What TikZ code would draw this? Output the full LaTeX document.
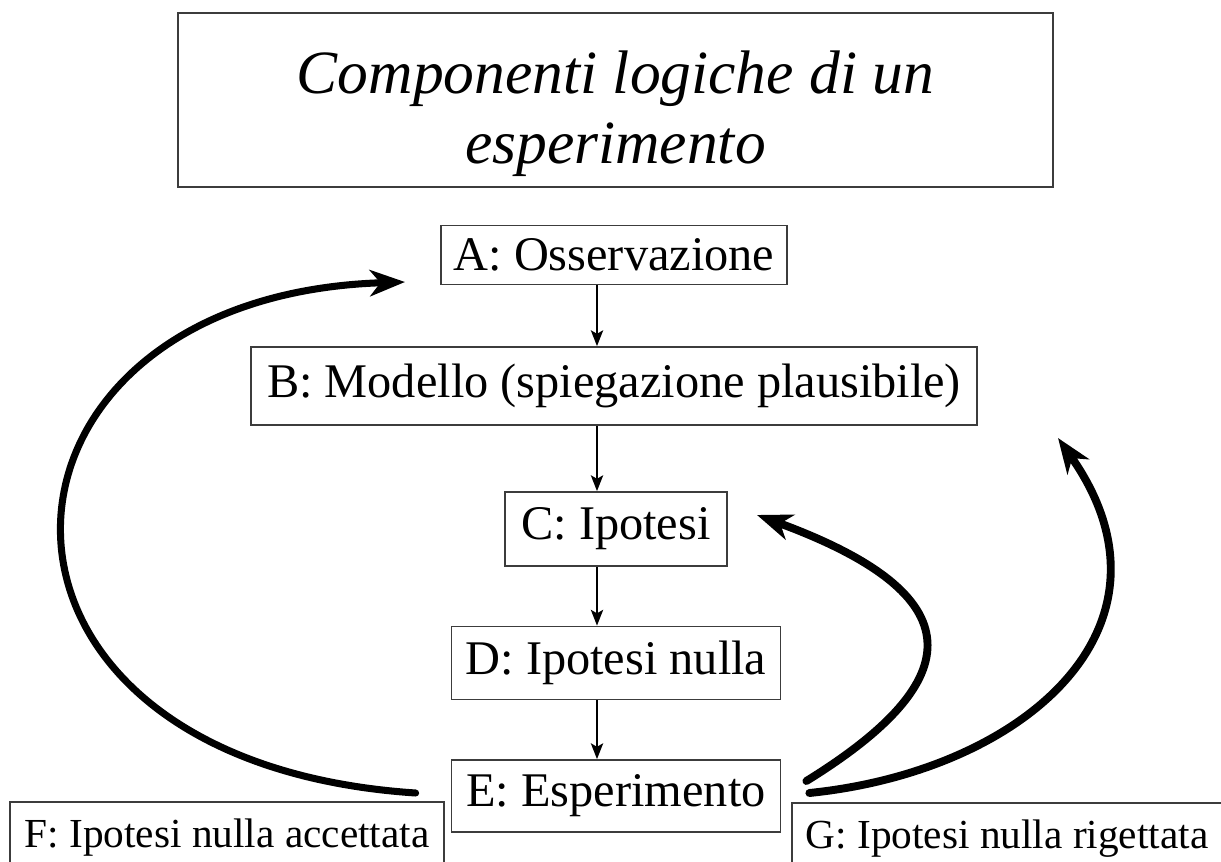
\documentclass[tikz,border=0pt]{standalone}
\usepackage{fontspec}
\setmainfont{Liberation Serif}
\usepackage{xcolor}
\usetikzlibrary{arrows.meta, positioning, calc}
\definecolor{boxgray}{RGB}{60, 60, 60}

\begin{document}
\begin{tikzpicture}[
    phase/.style={rectangle, draw=boxgray, line width=1pt, fill=white, text centered, inner sep=0pt, font=\fontsize{27.5}{33}\selectfont},
    outcome/.style={phase, font=\fontsize{23.5}{28}\selectfont},
    heading/.style={rectangle, draw=boxgray, line width=1pt, text centered, align=center, font=\fontsize{35}{40}\selectfont\itshape},
    flow/.style={-{Stealth[length=9pt, width=7pt, inset=2pt]}, line width=1pt},
    loop/.style={-{Stealth[length=20pt, width=15pt, inset=6pt]}, line width=4pt, line cap=round}
]
\clip (0,0) rectangle (24.42,17.22);
\useasboundingbox (0,0) rectangle (24.42,17.22);

% Title
\node (title_box) [heading, minimum width=17.5cm, minimum height=3.48cm] at (12.31,15.22) {\rule{0pt}{1.15em}Componenti logiche di un\\esperimento};

% Steps
\node (observation) [phase, minimum width=6.92cm, minimum height=1.18cm] at (12.28,12.12) {A: Osservazione};
\node (model) [phase, minimum width=14.52cm, minimum height=1.56cm] at (12.28,9.5) {B: Modello (spiegazione plausibile)};
\node (hypothesis) [phase, minimum width=4.44cm, minimum height=1.48cm] at (12.32,6.64) {C: Ipotesi};
\node (null_hypothesis) [phase, minimum width=6.58cm, minimum height=1.46cm] at (12.32,3.96) {D: Ipotesi nulla};
\node (experiment) [phase, minimum width=6.58cm, minimum height=1.44cm] at (12.32,1.30) {E: Esperimento};

% Outcomes
\node (accepted) [outcome, minimum width=8.68cm, minimum height=1.44cm] at (4.54,0.46) {F: Ipotesi nulla accettata};
\node (rejected) [outcome, minimum width=8.6cm, minimum height=1.44cm] at (20.14,0.44) {G: Ipotesi nulla rigettata};

% Vertical flow
\coordinate (axis) at (11.94,0);
\draw [flow] (observation.south -| axis) -- (model.north -| axis);
\draw [flow] (model.south -| axis) -- (hypothesis.north -| axis);
\draw [flow] (hypothesis.south -| axis) -- (null_hypothesis.north -| axis);
\draw [flow] (null_hypothesis.south -| axis) -- (experiment.north -| axis);

% Feedback loops
\coordinate (back_obs) at (8.1,11.58);
\coordinate (back_hyp) at (15.14,6.92);
\coordinate (back_model) at (21.16,8.46);
\draw [loop] ($(experiment.west)+(-0.7,0.06)$) .. controls (-1.3,2.0) and (-0.8,11.3) .. (back_obs);
\draw [loop, line width=4.5pt] ($(experiment.east)+(0.5,0.3)$) .. controls (19.4,3.62) and (19.5,5.32) .. (back_hyp);
\draw [loop, line width=4.5pt] ($(experiment.east)+(0.56,0.06)$) .. controls (20.5,1.8) and (23.8,4.7) .. (back_model);

\end{tikzpicture}
\end{document}
